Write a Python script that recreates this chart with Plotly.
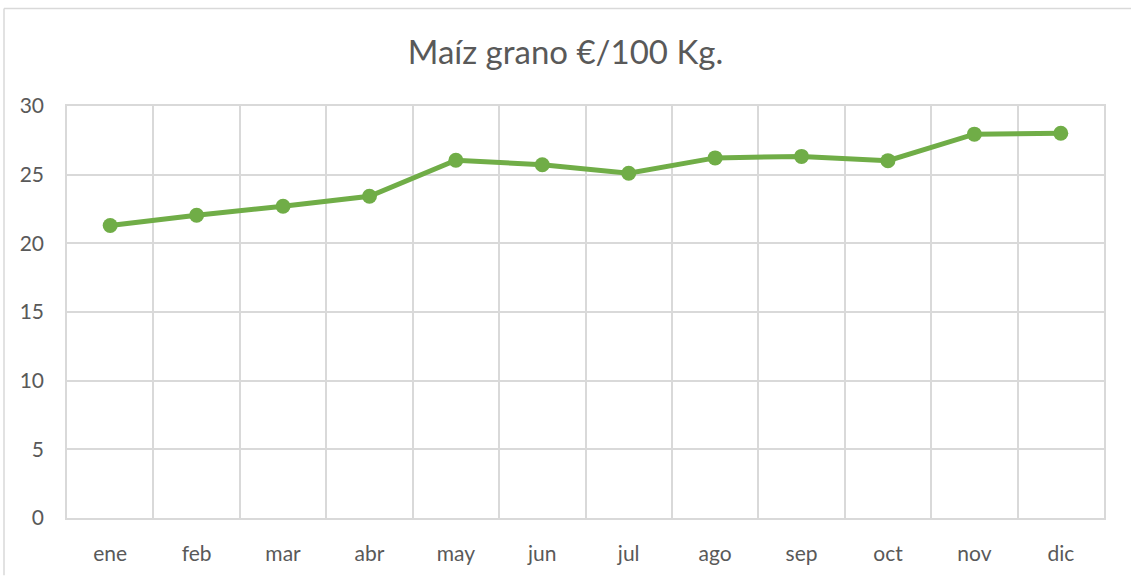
import plotly.graph_objects as go

months = ["ene", "feb", "mar", "abr", "may", "jun", "jul", "ago", "sep", "oct", "nov", "dic"]
prices = [21.3, 22.05, 22.7, 23.43, 26.05, 25.72, 25.1, 26.22, 26.33, 26.02, 27.95, 28.02]
title_text = "Maíz grano €/100 Kg."

W, H = 1131, 577
ml, mr, mt, mb = 67, 27, 106, 53
pw, ph = W - ml - mr, H - mt - mb

fig = go.Figure()
fig.add_trace(go.Scatter(
    x=months, y=prices, mode="lines+markers",
    line=dict(color="#70AD47", width=5),
    marker=dict(color="#70AD47", size=15),
    showlegend=False,
))

grid = "#D9D9D9"
txt = "#595959"
fig.update_layout(
    width=W, height=H,
    margin=dict(l=ml, r=mr, t=mt, b=mb),
    paper_bgcolor="white", plot_bgcolor="white",
    font=dict(family="Lato, Open Sans, sans-serif", color=txt, size=21),
    title=dict(text=title_text, x=0.5, xref="container", xanchor="center",
               y=1 - 52 / H, yref="container", yanchor="middle",
               font=dict(size=33, color=txt)),
    xaxis=dict(type="category", range=[-0.5, 11.5], tickson="boundaries",
               showgrid=True, gridcolor=grid, gridwidth=1.5,
               showline=True, linecolor=grid, linewidth=1.5, mirror=True,
               ticks="", ticklabelstandoff=16, zeroline=False, fixedrange=True),
    yaxis=dict(range=[0, 30], dtick=5, showgrid=True, gridcolor=grid, gridwidth=1.5,
               showline=True, linecolor=grid, linewidth=1.5, mirror=True,
               ticks="", ticklabelstandoff=17, zeroline=False, fixedrange=True),
    shapes=[
        dict(type="line", xref="paper", yref="paper",
             x0=(4 - ml) / pw, x1=(4 - ml) / pw, y0=1 + (mt - 7) / ph, y1=-(mb + 5) / ph,
             line=dict(color=grid, width=1.5)),
        dict(type="line", xref="paper", yref="paper",
             x0=(4 - ml) / pw, x1=1 + (mr + 5) / pw, y0=1 + (mt - 7) / ph, y1=1 + (mt - 7) / ph,
             line=dict(color=grid, width=1.5)),
    ],
)

fig.write_html("out.html", config={"displayModeBar": False},
               post_script="document.body.style.margin='0';document.body.style.overflow='hidden';")
